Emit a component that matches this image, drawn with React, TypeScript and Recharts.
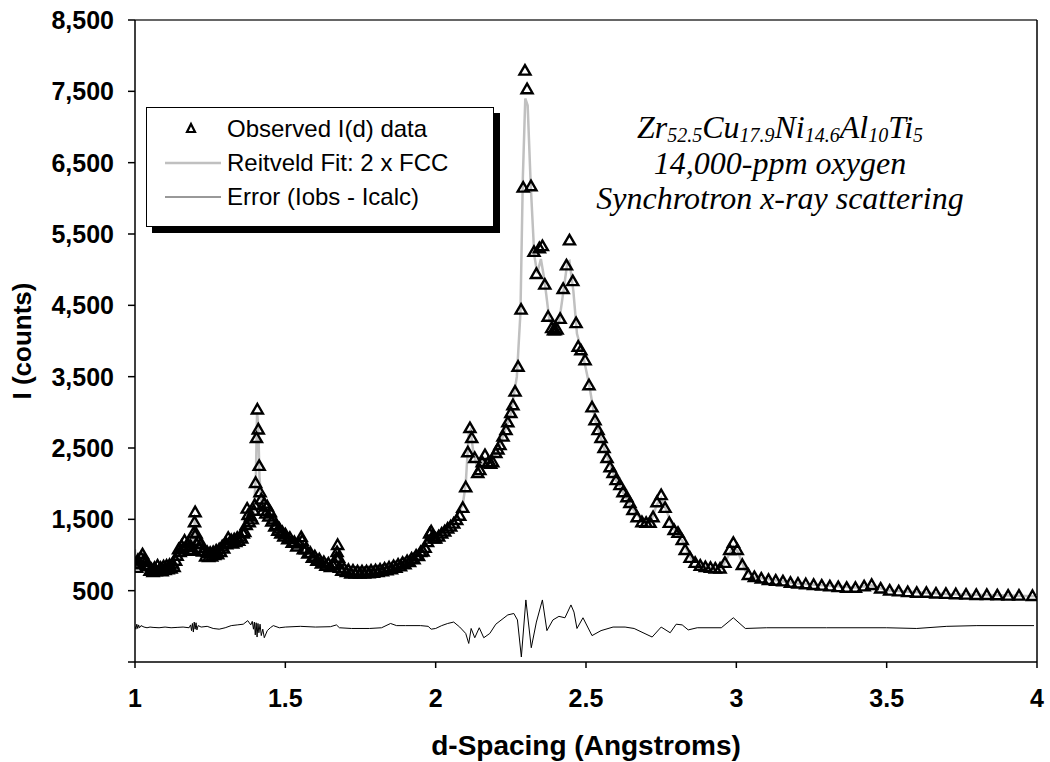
import { ComposedChart, Scatter, Line, XAxis, YAxis, ReferenceLine, Legend, Label } from 'recharts'

// [d-spacing, intensity]
const observed: [number, number][] = [
  [1.0, 880], [1.005, 820], [1.01, 930], [1.015, 870], [1.02, 960], [1.025, 1010], [1.03, 930], [1.035, 900],
  [1.04, 840], [1.045, 860], [1.05, 780], [1.055, 800], [1.06, 760], [1.065, 820], [1.07, 770], [1.075, 850],
  [1.08, 780], [1.085, 820], [1.09, 770], [1.095, 840], [1.1, 790], [1.105, 850], [1.11, 800], [1.115, 860],
  [1.12, 810], [1.125, 880], [1.13, 830], [1.135, 920], [1.14, 990], [1.145, 1080], [1.15, 1040], [1.155, 1130],
  [1.16, 1080], [1.165, 1200], [1.17, 1110], [1.175, 1160], [1.18, 1060], [1.185, 1130], [1.19, 1070],
  [1.195, 1310], [1.198, 1460], [1.2, 1600], [1.203, 1300], [1.206, 1150], [1.21, 1200], [1.215, 1100],
  [1.22, 1160], [1.225, 1050], [1.23, 1060], [1.235, 980], [1.24, 1040], [1.245, 970], [1.25, 1030],
  [1.255, 980], [1.26, 1040], [1.265, 1000], [1.27, 1060], [1.275, 1010], [1.28, 1080], [1.285, 1040],
  [1.29, 1120], [1.295, 1090], [1.3, 1160], [1.305, 1150], [1.31, 1240], [1.315, 1170], [1.32, 1210],
  [1.325, 1160], [1.33, 1220], [1.335, 1180], [1.34, 1240], [1.345, 1200], [1.35, 1260], [1.355, 1230],
  [1.36, 1300], [1.365, 1320], [1.37, 1420], [1.373, 1650], [1.376, 1560], [1.38, 1460], [1.385, 1540],
  [1.39, 1500], [1.395, 1620], [1.398, 1700], [1.401, 2010], [1.404, 2640], [1.407, 3040], [1.41, 2760],
  [1.413, 2250], [1.416, 1880], [1.42, 1780], [1.425, 1620], [1.43, 1720], [1.435, 1580], [1.44, 1680],
  [1.445, 1540], [1.45, 1600], [1.455, 1470], [1.46, 1500], [1.465, 1400], [1.47, 1420], [1.475, 1340],
  [1.48, 1370], [1.485, 1300], [1.49, 1320], [1.495, 1260], [1.5, 1290],
  [1.508, 1220], [1.515, 1240], [1.523, 1170], [1.53, 1180], [1.538, 1120], [1.545, 1160], [1.553, 1250],
  [1.556, 1200], [1.56, 1080], [1.568, 1080], [1.575, 1020], [1.583, 1030], [1.59, 960], [1.598, 980],
  [1.605, 920], [1.613, 940], [1.62, 880], [1.628, 900], [1.635, 850], [1.643, 880], [1.65, 830],
  [1.658, 860], [1.665, 880], [1.67, 960], [1.672, 1040], [1.674, 1140], [1.677, 960], [1.68, 820],
  [1.688, 780], [1.695, 810], [1.703, 760], [1.71, 790], [1.718, 740], [1.725, 780], [1.733, 740],
  [1.74, 770], [1.748, 740], [1.755, 770], [1.763, 740], [1.77, 770], [1.778, 745], [1.785, 780],
  [1.793, 750], [1.8, 785], [1.808, 760], [1.815, 795], [1.823, 770], [1.83, 810], [1.838, 785],
  [1.845, 825], [1.853, 800], [1.86, 845], [1.868, 820], [1.875, 865], [1.883, 840], [1.89, 890],
  [1.898, 870], [1.905, 915], [1.913, 900], [1.92, 950], [1.928, 940], [1.935, 990], [1.943, 985],
  [1.95, 1040], [1.958, 1050], [1.965, 1100], [1.973, 1180], [1.98, 1300], [1.985, 1330], [1.99, 1260],
  [1.995, 1230],
  [2.0, 1230], [2.01, 1260], [2.02, 1300], [2.03, 1330], [2.04, 1370], [2.05, 1400], [2.06, 1440],
  [2.07, 1490], [2.08, 1550], [2.09, 1660], [2.1, 1950], [2.107, 2440], [2.114, 2780], [2.12, 2640],
  [2.13, 2360], [2.14, 2150], [2.147, 2190], [2.155, 2300], [2.164, 2400], [2.174, 2290], [2.183, 2280],
  [2.19, 2300], [2.2, 2430], [2.207, 2480], [2.214, 2540], [2.224, 2660], [2.234, 2750], [2.24, 2860],
  [2.25, 2990], [2.257, 3100], [2.264, 3290], [2.274, 3640], [2.284, 4440], [2.291, 6150], [2.297, 7790],
  [2.304, 7530], [2.317, 6170], [2.327, 5250], [2.335, 4940], [2.345, 5300], [2.355, 5330], [2.363, 4790],
  [2.374, 4340], [2.386, 4180], [2.392, 4150], [2.397, 4150], [2.404, 4160], [2.414, 4310], [2.424, 4730],
  [2.435, 5060], [2.445, 5410], [2.456, 4840], [2.467, 4250], [2.474, 3920], [2.483, 3870], [2.497, 3730],
  [2.51, 3380], [2.52, 3070], [2.53, 2890], [2.54, 2750], [2.55, 2640], [2.56, 2500], [2.57, 2360],
  [2.58, 2230], [2.59, 2150], [2.6, 2050], [2.613, 1980], [2.623, 1880], [2.636, 1810], [2.646, 1730],
  [2.656, 1630], [2.67, 1530], [2.686, 1460], [2.7, 1450], [2.713, 1450], [2.723, 1530], [2.736, 1740],
  [2.75, 1840], [2.763, 1660], [2.777, 1450], [2.793, 1350], [2.806, 1310], [2.82, 1210], [2.83, 1070],
  [2.846, 960], [2.863, 890], [2.88, 850], [2.897, 830], [2.914, 820], [2.93, 810], [2.946, 810],
  [2.962, 890], [2.978, 1070], [2.99, 1170], [3.003, 1070], [3.02, 860], [3.04, 720], [3.06, 690],
  [3.083, 670], [3.107, 650], [3.131, 640], [3.155, 630], [3.18, 610], [3.205, 600], [3.231, 590],
  [3.257, 580], [3.284, 570], [3.311, 560], [3.339, 550], [3.367, 540], [3.396, 540], [3.425, 560],
  [3.45, 580], [3.48, 530], [3.51, 500], [3.54, 490], [3.57, 480], [3.6, 470], [3.632, 470], [3.664, 460],
  [3.697, 455], [3.73, 450], [3.764, 445], [3.798, 440], [3.833, 440], [3.868, 435], [3.904, 430],
  [3.94, 430], [3.985, 425],
]

const reitveldFit: [number, number][] = [
  [1.0, 1080], [1.003, 900], [1.01, 900], [1.025, 960], [1.04, 860], [1.06, 800], [1.1, 820], [1.13, 870],
  [1.145, 1080], [1.17, 1150], [1.19, 1100], [1.197, 1350], [1.2, 1560], [1.204, 1250], [1.212, 1130],
  [1.24, 1010], [1.28, 1060], [1.31, 1220], [1.34, 1220], [1.37, 1400], [1.395, 1600], [1.402, 2100],
  [1.406, 3000], [1.41, 2800], [1.414, 2100], [1.42, 1750], [1.44, 1620], [1.47, 1400], [1.5, 1260],
  [1.55, 1180], [1.6, 950], [1.65, 850], [1.668, 900], [1.672, 1080], [1.676, 900], [1.7, 790],
  [1.76, 755], [1.82, 785], [1.88, 860], [1.94, 990], [1.975, 1200], [1.985, 1300], [2.0, 1240],
  [2.05, 1400], [2.09, 1700], [2.1, 2000], [2.11, 2700], [2.116, 2750], [2.125, 2450], [2.14, 2200],
  [2.165, 2360], [2.19, 2320], [2.22, 2620], [2.25, 2980], [2.27, 3500], [2.282, 4400], [2.29, 6300],
  [2.298, 7400], [2.306, 7300], [2.316, 6200], [2.328, 5200], [2.338, 4950], [2.35, 5150], [2.362, 4850],
  [2.378, 4300], [2.395, 4150], [2.41, 4250], [2.425, 4700], [2.438, 5100], [2.445, 5120], [2.458, 4700],
  [2.47, 4100], [2.49, 3800], [2.51, 3400], [2.53, 2900], [2.56, 2500], [2.6, 2050], [2.65, 1680],
  [2.69, 1460], [2.715, 1460], [2.735, 1700], [2.75, 1800], [2.765, 1650], [2.79, 1380], [2.82, 1200],
  [2.85, 950], [2.9, 830], [2.95, 810], [2.975, 1000], [2.99, 1120], [3.005, 1050], [3.03, 780],
  [3.06, 690], [3.2, 600], [3.4, 545], [3.45, 575], [3.5, 505], [3.7, 455], [4.0, 420],
]

const residual: [number, number][] = [
  [1.0, 0], [1.003, -40], [1.006, 30], [1.009, -30], [1.012, 20], [1.015, -20], [1.02, 10], [1.03, -10],
  [1.04, -20], [1.05, -10], [1.06, -15], [1.08, -20], [1.1, -10], [1.12, -20], [1.14, -15], [1.16, -10],
  [1.18, -20], [1.185, 20], [1.188, -60], [1.191, 40], [1.194, -80], [1.197, 60], [1.2, -40], [1.203, 50],
  [1.206, -50], [1.21, 10], [1.22, -10], [1.24, 0], [1.26, -30], [1.28, -40], [1.3, -20], [1.32, 10],
  [1.34, 20], [1.36, 30], [1.375, 80], [1.385, 20], [1.39, 70], [1.394, -40], [1.397, 60], [1.4, -120],
  [1.403, 50], [1.406, -150], [1.409, 40], [1.412, -90], [1.416, 30], [1.42, -130], [1.425, -40],
  [1.43, -160], [1.44, -60], [1.45, -20], [1.46, 10], [1.48, -20], [1.5, -10], [1.55, 0], [1.6, -10],
  [1.65, -5], [1.67, 20], [1.68, -20], [1.72, -30], [1.78, -30], [1.82, -20], [1.85, 40], [1.87, 10],
  [1.9, 10], [1.95, 10], [1.975, 0], [1.985, -40], [2.0, -30], [2.02, 10], [2.04, 40], [2.06, 60],
  [2.08, -10], [2.1, -100], [2.11, -240], [2.118, -30], [2.13, -160], [2.145, -20], [2.16, -160],
  [2.18, -100], [2.2, 30], [2.24, 160], [2.26, 180], [2.272, 90], [2.285, -430], [2.3, 370],
  [2.318, -300], [2.335, 60], [2.355, 370], [2.37, -60], [2.39, 90], [2.41, 140], [2.43, 120], [2.45, 300],
  [2.46, 200], [2.47, -30], [2.49, 120], [2.52, -130], [2.55, -60], [2.59, -10], [2.63, -10], [2.66, -30],
  [2.72, -150], [2.75, -10], [2.78, -90], [2.8, 30], [2.82, 20], [2.84, -50], [2.87, -20], [2.95, -20],
  [2.99, 120], [3.03, -30], [3.1, -20], [3.3, -20], [3.5, -20], [3.6, -30], [3.7, 0], [3.8, 10], [3.99, 10],
]

const xTicks = [1, 1.5, 2, 2.5, 3, 3.5, 4]
const yTicks = [-500, 500, 1500, 2500, 3500, 4500, 5500, 6500, 7500, 8500]

const toRows = (pairs: [number, number][]) => pairs.map(([d, v]) => ({ d, v }))

const Triangle = (props: any) => {
  const { cx, cy } = props
  if (cx == null || cy == null) return null
  return (
    <path
      d={`M${cx},${cy - 5.5} L${cx + 5.5},${cy + 4} L${cx - 5.5},${cy + 4} Z`}
      fill="none"
      stroke="#000"
      strokeWidth={2.4}
    />
  )
}

const sans = 'Arial, "Liberation Sans", sans-serif'

function LegendBox() {
  const row = { display: 'flex', alignItems: 'center', height: '34px' }
  const text = { fontFamily: sans, fontSize: '24px', color: '#000', marginLeft: '6px', whiteSpace: 'nowrap' as const }
  return (
    <div style={{ width: '348px', height: '120px', background: '#fff', border: '1px solid #000', boxShadow: '6px 6px 0 #000', padding: '4px 0 0 18px', boxSizing: 'border-box' }}>
      <div style={row}>
        <svg width={56} height={20}>
          <path d="M26,5 L30,13 L22,13 Z" fill="none" stroke="#000" strokeWidth={2.2} />
        </svg>
        <span style={text}>Observed I(d) data</span>
      </div>
      <div style={row}>
        <svg width={56} height={20}>
          <line x1={0} y1={10} x2={56} y2={10} stroke="#c0c0c0" strokeWidth={2.5} />
        </svg>
        <span style={text}>Reitveld Fit: 2 x FCC</span>
      </div>
      <div style={row}>
        <svg width={56} height={20}>
          <line x1={0} y1={10} x2={56} y2={10} stroke="#333" strokeWidth={1} />
        </svg>
        <span style={text}>Error (Iobs - Icalc)</span>
      </div>
    </div>
  )
}

const subStyle = { fontSize: '20px', verticalAlign: '-4px', lineHeight: 0 }

export default function App() {
  return (
    <div style={{ position: 'absolute', left: 0, top: 0, width: '1050px', height: '762px', background: '#fff' }}>
      <ComposedChart width={1050} height={762} margin={{ top: 20, right: 13, bottom: 0, left: 0 }}>
        <XAxis
          dataKey="d"
          type="number"
          domain={[1, 4]}
          ticks={xTicks}
          allowDataOverflow
          height={100}
          stroke="#000"
          strokeWidth={1.5}
          tickSize={6}
          tickMargin={21}
          tick={{ fill: '#000', fontFamily: sans, fontSize: 25, fontWeight: 'bold' }}
        >
          <Label
            content={(p: any) => {
              const vb = p.viewBox
              return (
                <text x={vb.x + vb.width / 2} y={vb.y + 93} textAnchor="middle" fontFamily={sans} fontSize={28} fontWeight="bold" fill="#000">
                  d-Spacing (Angstroms)
                </text>
              )
            }}
          />
        </XAxis>
        <YAxis
          type="number"
          domain={[-500, 8500]}
          ticks={yTicks}
          allowDataOverflow
          width={135}
          stroke="#000"
          strokeWidth={1.5}
          tickSize={7}
          tickMargin={14}
          tickFormatter={(v: number) => (v < 0 ? '' : v.toLocaleString('en-US'))}
          tick={{ fill: '#000', fontFamily: sans, fontSize: 25, fontWeight: 'bold' }}
        >
          <Label
            content={(p: any) => {
              const vb = p.viewBox
              const cx = vb.x + 22
              const cy = vb.y + vb.height / 2
              return (
                <text x={cx} y={cy} transform={`rotate(-90 ${cx} ${cy})`} textAnchor="middle" dominantBaseline="central" fontFamily={sans} fontSize={26} fontWeight="bold" fill="#000">
                  I (counts)
                </text>
              )
            }}
          />
        </YAxis>
        <ReferenceLine y={8500} stroke="#333" strokeWidth={1.5} />
        <ReferenceLine x={4} stroke="#000" strokeWidth={1.5} />
        <Line data={toRows(reitveldFit)} dataKey="v" type="linear" dot={false} stroke="#c0c0c0" strokeWidth={2.5} isAnimationActive={false} />
        <Line data={toRows(residual)} dataKey="v" type="linear" dot={false} stroke="#000" strokeWidth={1} isAnimationActive={false} />
        <Scatter data={toRows(observed)} dataKey="v" shape={Triangle} isAnimationActive={false} />
        <Legend
          layout="vertical"
          align="center"
          verticalAlign="middle"
          content={() => <LegendBox />}
          wrapperStyle={{ position: 'absolute', left: 146, top: 107, width: 'auto', height: 'auto' }}
        />
      </ComposedChart>
      <div
        style={{
          position: 'absolute',
          left: 560,
          top: 110,
          width: 440,
          textAlign: 'center',
          fontFamily: '"Liberation Serif", "Times New Roman", serif',
          fontStyle: 'italic',
          fontSize: '32px',
          color: '#000',
        }}
      >
        <div style={{ height: '36px', lineHeight: '34px' }}>
          Zr<span style={subStyle}>52.5</span>Cu<span style={subStyle}>17.9</span>Ni<span style={subStyle}>14.6</span>Al<span style={subStyle}>10</span>Ti<span style={subStyle}>5</span>
        </div>
        <div style={{ height: '35px', lineHeight: '35px' }}>14,000-ppm oxygen</div>
        <div style={{ height: '35px', lineHeight: '35px' }}>Synchrotron x-ray scattering</div>
      </div>
    </div>
  )
}
